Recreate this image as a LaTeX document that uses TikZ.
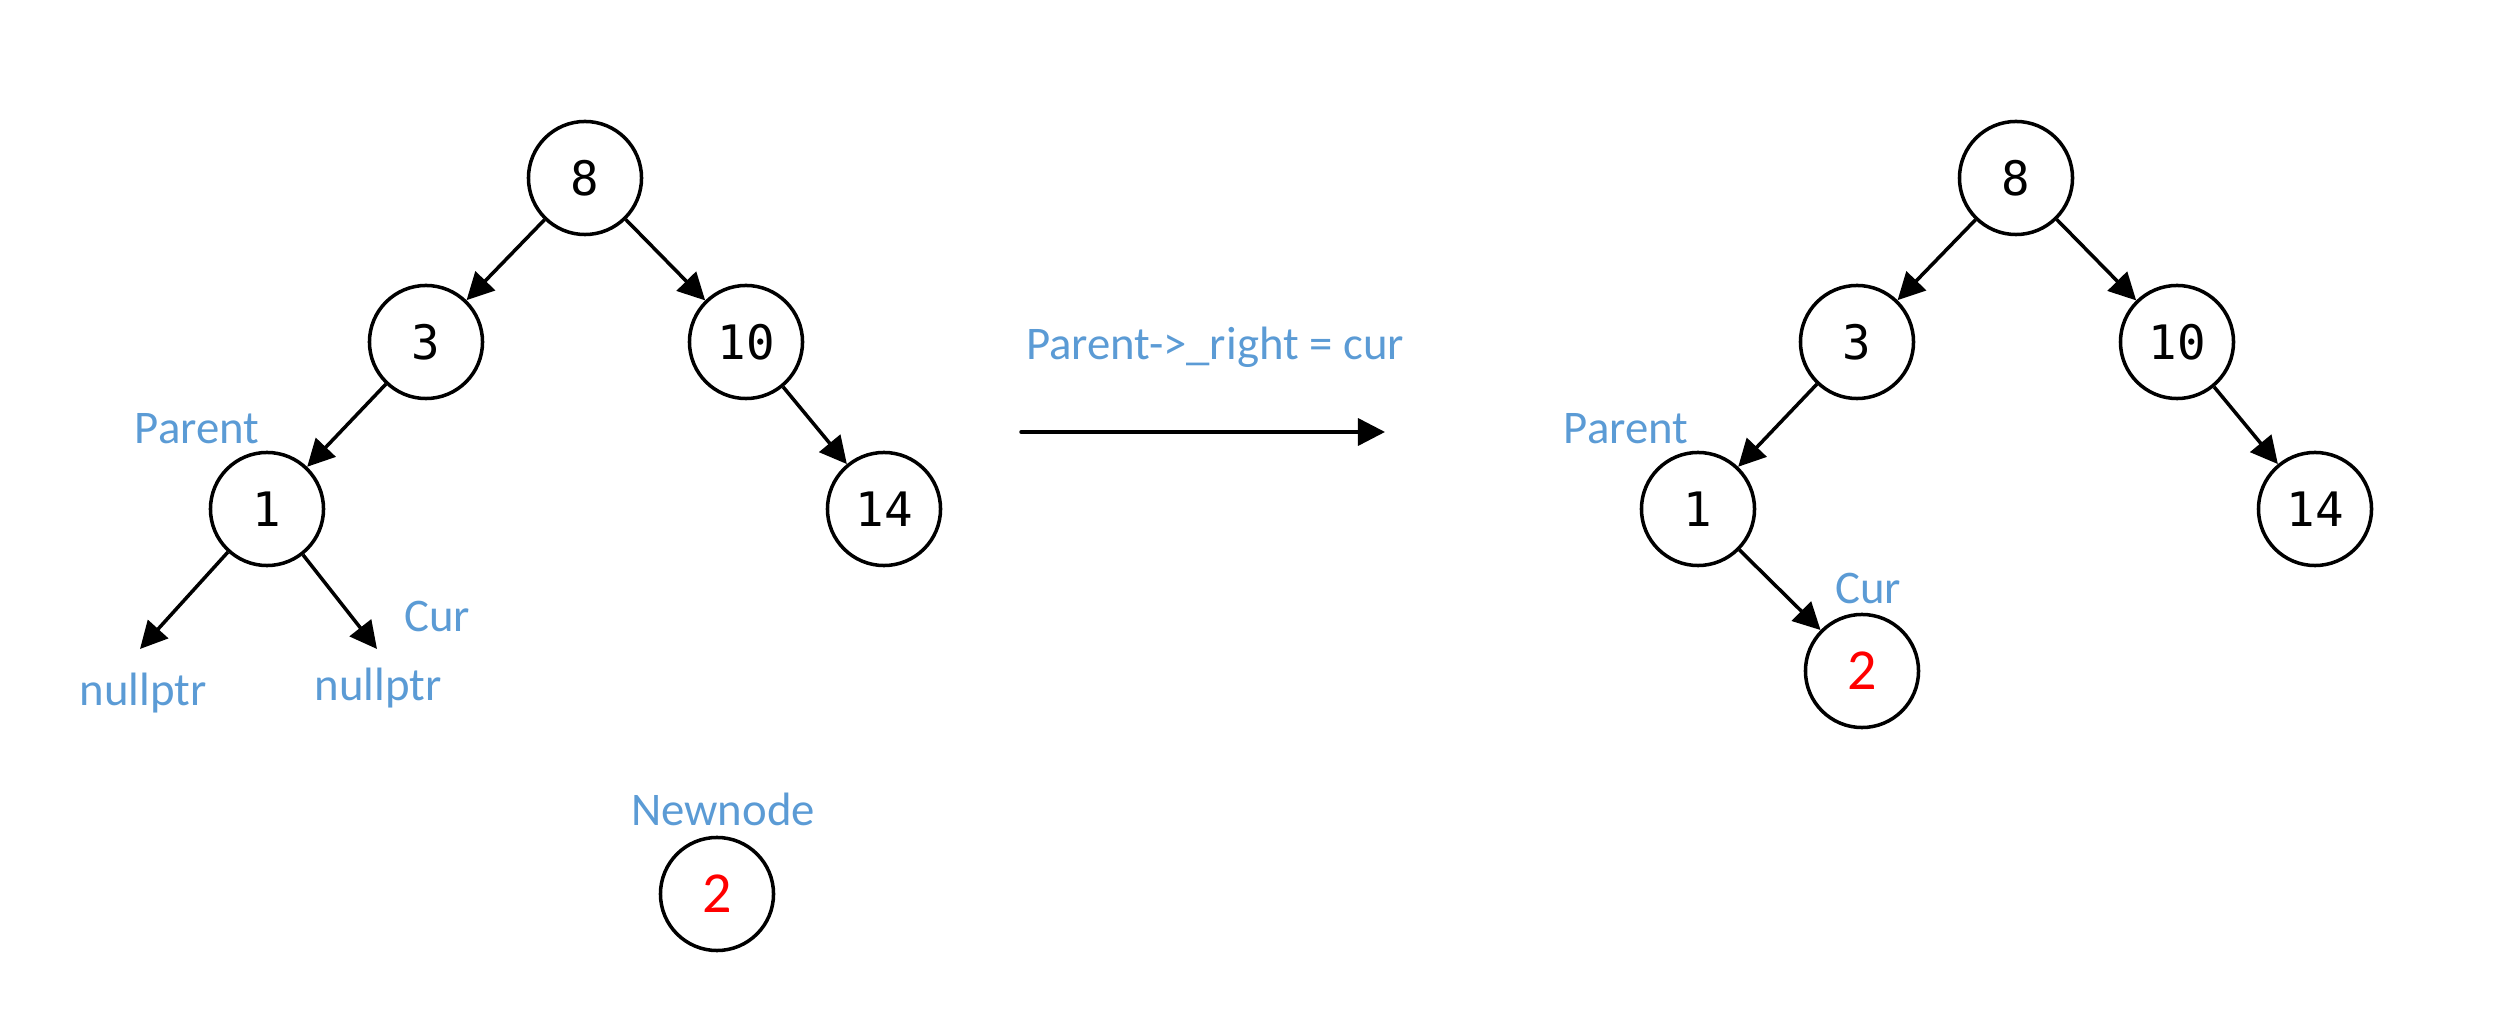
\documentclass[tikz,border=0pt]{standalone}
\usepackage{fontspec}
\setmainfont{Carlito}
\newfontfamily\keyfont{DejaVu Sans Mono}
\usetikzlibrary{arrows.meta,positioning}
\definecolor{lblblue}{HTML}{5B9BD5}

\begin{document}
\begin{tikzpicture}[x=0.01cm,y=-0.01cm,
  tnode/.style={circle,draw,line width=1pt,minimum size=1.13cm,inner sep=0pt,
    font=\keyfont\fontsize{13.5}{15}\selectfont},
  newnode/.style={tnode,text=red,font=\fontsize{16.5}{18}\selectfont},
  lbl/.style={text=lblblue,inner sep=0pt,font=\fontsize{13.3}{15}\selectfont},
  ptr/.style={-{Triangle[length=0.27cm,width=0.27cm]},line width=1pt}
]
\useasboundingbox (0,0) rectangle (2493,1022);

% Before: search ends at nullptr
\node[tnode] (a8)  at (585,178) {8};
\node[tnode] (a3)  at (426,342) {3};
\node[tnode] (a10) at (746,342) {10};
\node[tnode] (a1)  at (267,509) {1};
\node[tnode] (a14) at (884,509) {14};
\coordinate (anl) at (140,649);
\coordinate (anr) at (377,649);

\draw[ptr] (a8)--(a3);
\draw[ptr] (a8)--(a10);
\draw[ptr] (a3)--(a1);
\draw[ptr] (a10)--(a14);
\draw[ptr] (a1)--(anl);
\draw[ptr] (a1)--(anr);

\node[lbl] (apar)  at (197,429) {Parent};
\node[lbl] (acur)  at (437,617) {Cur};
\node[lbl] (anull) at (143,693) {nullptr};
\node[lbl] (anulr) at (378,688) {nullptr};

% New node
\node[lbl]     (newlbl) at (723,809) {Newnode};
\node[newnode] (new2)   at (717,894) {2};

% Step
\coordinate (st) at (1021,432);
\coordinate (en) at (1385,432);
\draw[ptr,line cap=round] (st)--(en);
\node[lbl] (step) at (1215,347) {Parent->\_right = cur};

% After: linked as right child
\node[tnode]   (b8)  at (2016,178) {8};
\node[tnode]   (b3)  at (1857,342) {3};
\node[tnode]   (b10) at (2177,342) {10};
\node[tnode]   (b1)  at (1698,509) {1};
\node[tnode]   (b14) at (2315,509) {14};
\node[newnode] (b2)  at (1862,671) {2};

\draw[ptr] (b8)--(b3);
\draw[ptr] (b8)--(b10);
\draw[ptr] (b3)--(b1);
\draw[ptr] (b10)--(b14);
\draw[ptr] (b1)--(b2);

\node[lbl] (bpar) at (1626,429) {Parent};
\node[lbl] (bcur) at (1868,588) {Cur};
\end{tikzpicture}
\end{document}
